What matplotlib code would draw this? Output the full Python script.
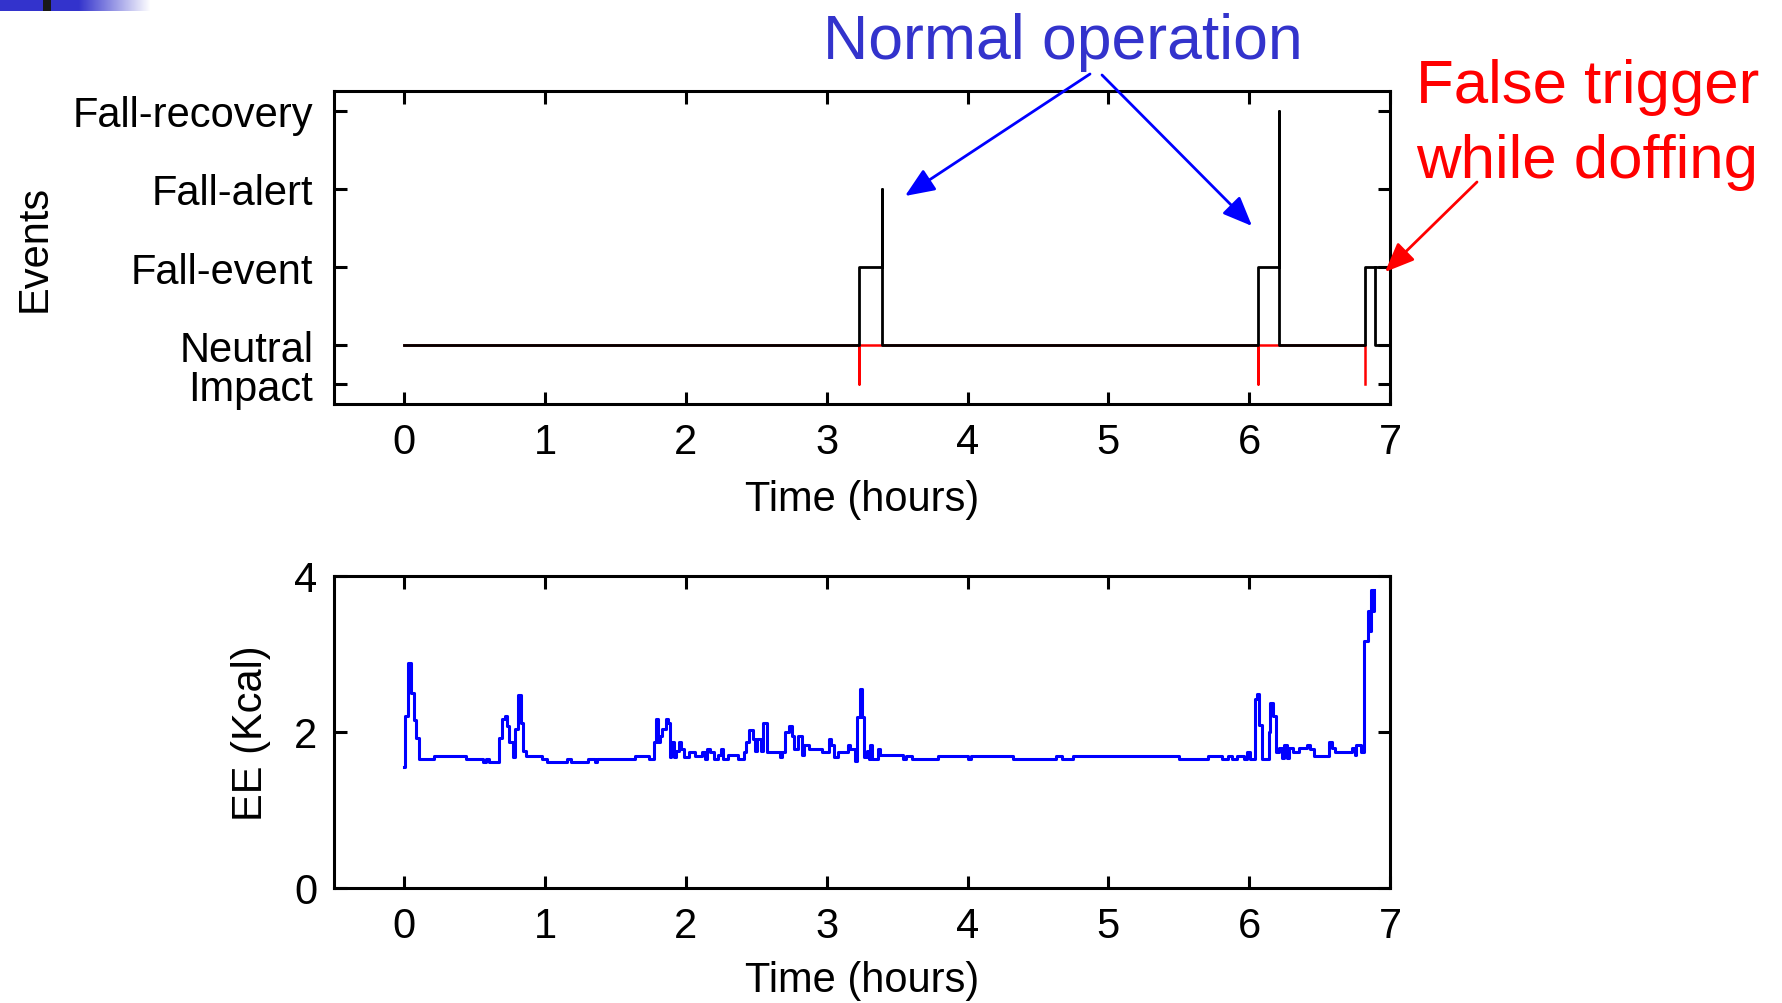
import numpy as np
import matplotlib
matplotlib.use('Agg')
import matplotlib.pyplot as plt

# --- data -------------------------------------------------------------
event_names = ['Impact', 'Neutral', 'Fall-event', 'Fall-alert', 'Fall-recovery']
event_levels = [0.5, 1, 2, 3, 4]

# detector state (hours, level)
state_t = [0.0, 3.23, 3.23, 3.39, 3.39, 3.39, 6.06, 6.06, 6.21, 6.21, 6.21, 6.82, 6.82, 7.0]
state_y = [1, 1, 2, 2, 3, 1, 1, 2, 2, 4, 1, 1, 2, 2]
doff_t = [6.89, 6.89, 7.0]
doff_y = [2, 1, 1]

# impact detections
impact_t = [0.0, 3.23, 3.23, 3.23, 6.06, 6.06, 6.06, 6.82, 6.82]
impact_y = [1, 1, 0.5, 1, 1, 0.5, 1, 1, 0.5]

# energy expenditure (hours, kcal), step trace
ee_t = [0.000, 0.007, 0.026, 0.047, 0.066, 0.085, 0.102, 0.208, 0.441, 0.555,
        0.582, 0.604, 0.672, 0.690, 0.712, 0.731, 0.745, 0.772, 0.786, 0.808,
        0.826, 0.845, 0.862, 0.976, 1.016, 1.158, 1.180, 1.302, 1.356, 1.369,
        1.641, 1.736, 1.771, 1.785, 1.804, 1.817, 1.831, 1.858, 1.872, 1.885,
        1.890, 1.912, 1.926, 1.953, 1.967, 1.988, 2.021, 2.062, 2.116, 2.135,
        2.151, 2.170, 2.197, 2.224, 2.252, 2.265, 2.300, 2.368, 2.409, 2.428,
        2.450, 2.474, 2.490, 2.505, 2.530, 2.545, 2.572, 2.667, 2.680, 2.705,
        2.735, 2.754, 2.767, 2.795, 2.822, 2.835, 2.876, 2.965, 3.017, 3.030,
        3.052, 3.080, 3.148, 3.166, 3.202, 3.215, 3.237, 3.250, 3.264, 3.283,
        3.297, 3.310, 3.324, 3.364, 3.378, 3.541, 3.563, 3.605, 3.787, 4.000,
        4.024, 4.319, 4.626, 4.669, 4.749, 5.501, 5.709, 5.808, 5.851, 5.875,
        5.915, 5.962, 5.986, 6.009, 6.038, 6.057, 6.073, 6.090, 6.139, 6.151,
        6.168, 6.187, 6.210, 6.234, 6.246, 6.270, 6.286, 6.310, 6.357, 6.411,
        6.435, 6.459, 6.565, 6.589, 6.608, 6.731, 6.754, 6.759, 6.797, 6.818,
        6.844, 6.861, 6.868, 6.876, 6.884]
ee_kcal = [1.55, 2.20, 2.88, 2.50, 2.16, 1.92, 1.65, 1.69, 1.65, 1.61,
           1.65, 1.61, 1.92, 2.17, 2.21, 2.08, 1.87, 1.68, 2.04, 2.47,
           2.12, 1.76, 1.69, 1.65, 1.61, 1.65, 1.61, 1.65, 1.61, 1.65,
           1.69, 1.65, 1.87, 2.17, 1.87, 1.95, 2.04, 2.17, 2.12, 1.68,
           1.87, 1.68, 1.76, 1.87, 1.78, 1.68, 1.75, 1.69, 1.75, 1.65,
           1.78, 1.74, 1.65, 1.70, 1.78, 1.65, 1.70, 1.65, 1.75, 1.87,
           2.03, 1.91, 1.76, 1.91, 1.76, 2.12, 1.75, 1.68, 1.75, 2.00,
           2.08, 1.95, 1.78, 1.95, 1.70, 1.83, 1.78, 1.74, 1.91, 1.83,
           1.68, 1.75, 1.83, 1.78, 1.63, 2.19, 2.55, 2.19, 1.68, 1.76,
           1.65, 1.83, 1.65, 1.78, 1.70, 1.65, 1.69, 1.65, 1.69, 1.65,
           1.69, 1.65, 1.69, 1.65, 1.69, 1.65, 1.69, 1.65, 1.69, 1.65,
           1.69, 1.65, 1.75, 1.65, 2.42, 2.49, 2.09, 1.65, 2.00, 2.37,
           2.21, 1.75, 1.80, 1.67, 1.83, 1.67, 1.79, 1.75, 1.79, 1.83,
           1.78, 1.69, 1.87, 1.79, 1.75, 1.79, 1.70, 1.83, 1.75, 3.17,
           3.55, 3.30, 3.82, 3.55, 3.82]

hour_ticks = [0, 1, 2, 3, 4, 5, 6, 7]
ee_ticks = [0, 2, 4]

# --- style ------------------------------------------------------------
plt.rcParams['font.family'] = ['Liberation Sans Narrow', 'Liberation Sans', 'DejaVu Sans']
plt.rcParams['font.size'] = 30
W, H = 1782, 1004


def style_axes(ax, pad):
    for sp in ax.spines.values():
        sp.set_linewidth(2.2)
    ax.tick_params(direction='in', top=True, right=True, length=9, width=2.2,
                   pad=pad, labelsize=30)


fig = plt.figure(figsize=(W / 100, H / 100), dpi=100)
fig.patch.set_facecolor('white')

# top panel: detected events
ax1 = fig.add_axes([334 / W, 1 - 405 / H, 1056 / W, 313 / H])
ax1.plot(impact_t, impact_y, color='#ff0000', lw=1.8, zorder=2)
ax1.plot(state_t, state_y, color='black', lw=2.0, zorder=3)
ax1.plot(doff_t, doff_y, color='black', lw=2.0, zorder=3)
ax1.set_xlim(-0.5, 7)
ax1.set_ylim(0.25, 4.25)
ax1.set_yticks(event_levels)
ax1.set_yticklabels(event_names)
ax1.set_xticks(hour_ticks)
style_axes(ax1, 13)
ax1.tick_params(axis='y', pad=15)
ax1.set_xlabel('Time (hours)', labelpad=12)
ax1.set_ylabel('Events')
ax1.yaxis.set_label_coords(-0.265, 0.5)

# bottom panel: energy expenditure
ax2 = fig.add_axes([334 / W, 1 - 889 / H, 1056 / W, 312 / H])
ax2.plot(ee_t, ee_kcal, color='#0000ff', lw=2.2, drawstyle='steps-post')
ax2.set_xlim(-0.5, 7)
ax2.set_ylim(0, 4)
ax2.set_xticks(hour_ticks)
ax2.set_yticks(ee_ticks)
style_axes(ax2, 13)
ax2.tick_params(axis='y', pad=12)
ax2.set_xlabel('Time (hours)', labelpad=10)
ax2.set_ylabel('EE (Kcal)')
ax2.yaxis.set_label_coords(-0.06, 0.5)

# annotations
ann_font = ['Liberation Sans', 'DejaVu Sans']
fig.text(1063 / W, 1 - 59 / H, 'Normal operation', color='#3333cc', fontsize=45,
         family=ann_font, ha='center', va='baseline')
fig.text(1416 / W, 1 - 103 / H, 'False trigger', color='#ff0000', fontsize=44.5,
         family=ann_font, ha='left', va='baseline')
fig.text(1416 / W, 1 - 178 / H, 'while doffing', color='#ff0000', fontsize=44.5,
         family=ann_font, ha='left', va='baseline')

arrow_kw = dict(arrowstyle='-|>,head_length=0.6,head_width=0.25', lw=2, mutation_scale=30,
                shrinkA=0, shrinkB=0)
for (x0, y0), (x1, y1), col in [((1090, 75), (905, 197), '#0000ff'),
                                ((1102, 76), (1252, 227), '#0000ff'),
                                ((1477, 183), (1385, 273), '#ff0000')]:
    fig.add_artist(matplotlib.patches.FancyArrowPatch(
        (x0 / W, 1 - y0 / H), (x1 / W, 1 - y1 / H), transform=fig.transFigure,
        color=col, **arrow_kw))

# slide banner in the corner
band = np.ones((1, 150, 3))
blue = np.array([0.2, 0.2, 0.8])
for i in range(150):
    if i < 78:
        band[0, i] = blue
    else:
        f = (i - 78) / 72
        band[0, i] = blue * (1 - f) + f
band[0, 43:51] = [0.1, 0.1, 0.1]
axb = fig.add_axes([0, 1 - 12 / H, 150 / W, 12 / H])
axb.imshow(band, aspect='auto')
axb.axis('off')

fig.savefig('out.png', dpi=100, facecolor='white')
